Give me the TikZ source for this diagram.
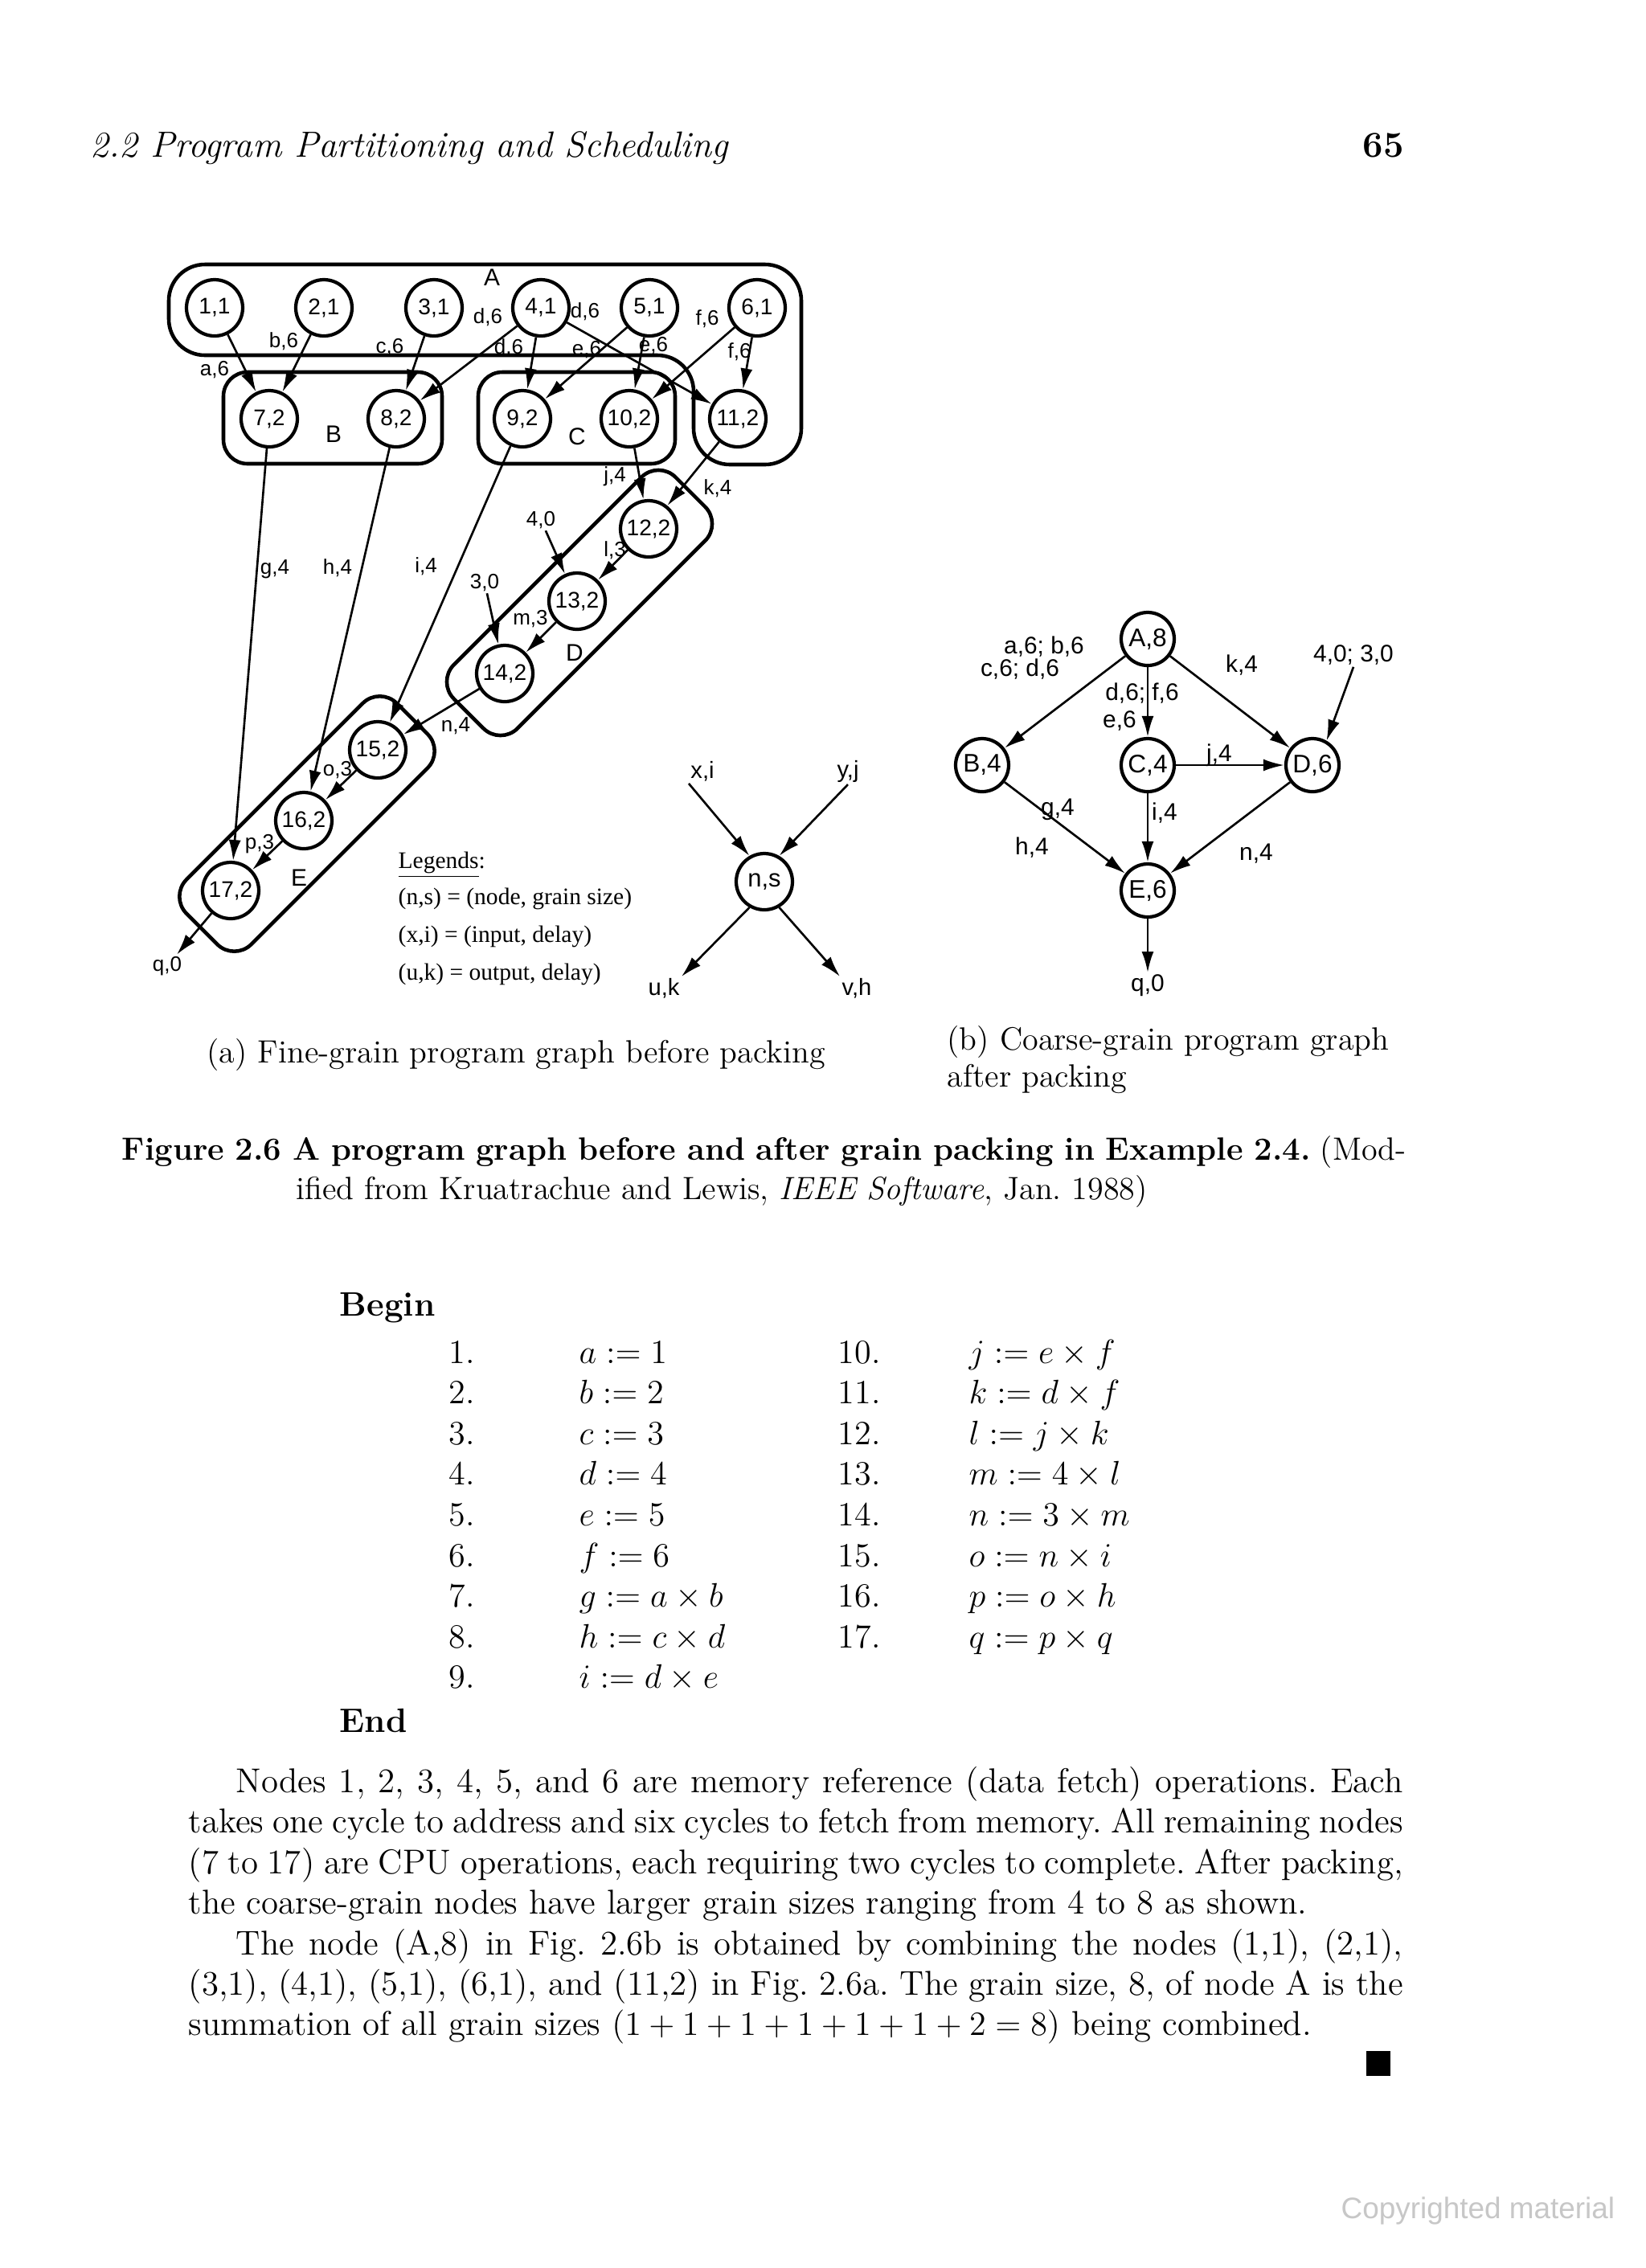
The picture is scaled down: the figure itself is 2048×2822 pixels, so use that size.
\documentclass[tikz,border=0pt]{standalone}
\usepackage{fontspec}
\usepackage{amsmath}
\usetikzlibrary{arrows.meta}
\newfontfamily\graphfont{Liberation Sans}
\newfontfamily\legendfont{Liberation Serif}
\tikzset{
  vtx/.style={circle, draw, line width=1.2pt, minimum size=7mm, inner sep=0pt,
              font={\graphfont\fontsize{8}{9}\selectfont}},
  bvtx/.style={vtx, minimum size=6.6mm, font={\graphfont\fontsize{9}{10}\selectfont}},
  grp/.style={draw, line width=1.3pt, rounded corners=3mm},
  grplbl/.style={font={\graphfont\fontsize{8.5}{9}\selectfont}, inner sep=0pt},
  elbl/.style={font={\graphfont\fontsize{7.4}{8}\selectfont}, inner sep=0.5pt},
  belbl/.style={font={\graphfont\fontsize{8.5}{9}\selectfont}, inner sep=0.5pt},
  arr/.style={-{Latex[length=2.6mm,width=1.5mm]}, line width=0.75pt},
  legtxt/.style={font={\legendfont\fontsize{8.4}{10}\selectfont}, anchor=base west, inner sep=0pt},
  bodytxt/.style={font={\frenchspacing\fontsize{12.2}{14.34}\selectfont}, anchor=base west, inner sep=0pt},
  captxt/.style={bodytxt, font={\frenchspacing\fontsize{11.4}{13.5}\selectfont}},
  codetxt/.style={bodytxt, font={\fontsize{12}{14.34}\selectfont}},
  kwtxt/.style={bodytxt, font={\bfseries\fontsize{12}{14.34}\selectfont}}
}
\begin{document}
\begin{tikzpicture}[x=0.1mm, y=-0.1mm]
\path[fill=white, use as bounding box] (0,0) rectangle (2048,2822);
% running head
\node[bodytxt, font={\itshape\fontsize{12.9}{14}\selectfont}] (hdr) at (112,195) {2.2 Program Partitioning and Scheduling};
\node[bodytxt, font={\bfseries\fontsize{12.9}{14}\selectfont}] (pgno) at (1695,195) {65};
% (a) fine-grain graph: grain nodes
\node[vtx] (n1) at (267,383) {1,1};
\node[vtx] (n2) at (403,383) {2,1};
\node[vtx] (n3) at (540,383) {3,1};
\node[vtx] (n4) at (673,383) {4,1};
\node[vtx] (n5) at (808,383) {5,1};
\node[vtx] (n6) at (942,383) {6,1};
\node[vtx] (n7) at (335,521) {7,2};
\node[vtx] (n8) at (493,521) {8,2};
\node[vtx] (n9) at (650,521) {9,2};
\node[vtx] (n10) at (783,521) {10,2};
\node[vtx] (n11) at (918,521) {11,2};
\node[vtx] (n12) at (807,658) {12,2};
\node[vtx] (n13) at (718,748) {13,2};
\node[vtx] (n14) at (628,838) {14,2};
\node[vtx] (n15) at (470,933) {15,2};
\node[vtx] (n16) at (378,1021) {16,2};
\node[vtx] (n17) at (287,1108) {17,2};
% packing groups
\draw[grp, rounded corners=4.5mm] (210,442) -- (210,329) -- (997,329) -- (997,578) -- (863,578) -- (863,442) -- cycle;
\draw[grp] (278,463) rectangle (550,577);
\draw[grp] (595,463) rectangle (840,577);
\node[grp, rotate=45, minimum width=39mm, minimum height=11.2mm] (boxD) at (721,750) {};
\node[grp, rotate=45, minimum width=37mm, minimum height=11.4mm] (boxE) at (382,1025) {};
\node[grplbl] (lA) at (612,345) {A};
\node[grplbl] (lB) at (415,540) {B};
\node[grplbl] (lC) at (718,543) {C};
\node[grplbl] (lD) at (715,812) {D};
\node[grplbl] (lE) at (372,1092) {E};
% edges
\draw[arr] (n1) -- (n7);
\draw[arr] (n2) -- (n7);
\draw[arr] (n3) -- (n8);
\draw[arr] (n4) -- (n8);
\draw[arr] (n4) -- (n9);
\draw[arr] (n4) -- (n11);
\draw[arr] (n5) -- (n9);
\draw[arr] (n5) -- (n10);
\draw[arr] (n6) -- (n10);
\draw[arr] (n6) -- (n11);
\draw[arr] (n7) -- (n17);
\draw[arr] (n8) -- (n16);
\draw[arr] (n9) -- (n15);
\draw[arr] (n10) -- (n12);
\draw[arr] (n11) -- (n12);
\draw[arr] (n12) -- (n13);
\draw[arr] (n13) -- (n14);
\draw[arr] (n14) -- (n15);
\draw[arr] (n15) -- (n16);
\draw[arr] (n16) -- (n17);
\node[elbl] (q0a) at (208,1202) {q,0};
\draw[arr] (n17) -- (q0a);
\node[elbl] (in40) at (673,647) {4,0};
\node[elbl] (in30) at (603,725) {3,0};
\draw[arr] (in40) -- (n13);
\draw[arr] (in30) -- (n14);
% edge labels
\node[elbl] (ea) at (267,460) {a,6};
\node[elbl] (eb) at (353,425) {b,6};
\node[elbl] (ec) at (485,432) {c,6};
\node[elbl] (ed1) at (607,395) {d,6};
\node[elbl] (ed2) at (633,433) {d,6};
\node[elbl] (ed3) at (728,388) {d,6};
\node[elbl] (ee1) at (730,435) {e,6};
\node[elbl] (ee2) at (813,430) {e,6};
\node[elbl] (ef1) at (880,397) {f,6};
\node[elbl] (ef2) at (920,438) {f,6};
\node[elbl] (eg) at (342,708) {g,4};
\node[elbl] (eh) at (420,707) {h,4};
\node[elbl] (ei) at (530,705) {i,4};
\node[elbl] (ej) at (765,593) {j,4};
\node[elbl] (ek) at (893,608) {k,4};
\node[elbl] (el) at (765,685) {l,3};
\node[elbl] (em) at (660,770) {m,3};
\node[elbl] (en) at (567,903) {n,4};
\node[elbl] (eo) at (420,958) {o,3};
\node[elbl] (ep) at (323,1050) {p,3};
% legend
\node[legtxt] (leg0) at (495,1080) {\underline{Legends}:};
\node[legtxt] (leg1) at (495,1125) {(n,s) = (node, grain size)};
\node[legtxt] (leg2) at (495,1172) {(x,i) = (input, delay)};
\node[legtxt] (leg3) at (495,1219) {(u,k) = output, delay)};
\node[vtx, font={\graphfont\fontsize{8.8}{10}\selectfont}] (ns) at (951,1097) {n,s};
\node[elbl, font={\graphfont\fontsize{8.3}{9}\selectfont}] (lxi) at (874,960) {x,i};
\node[elbl, font={\graphfont\fontsize{8.3}{9}\selectfont}] (lyj) at (1055,960) {y,j};
\node[elbl, font={\graphfont\fontsize{8.3}{9}\selectfont}] (luk) at (826,1230) {u,k};
\node[elbl, font={\graphfont\fontsize{8.3}{9}\selectfont}] (lvh) at (1066,1230) {v,h};
\draw[arr] (lxi.south west) -- (ns.120);
\draw[arr] (lyj.south) -- (ns.60);
\draw[arr] (ns.240) -- (luk.north east);
\draw[arr] (ns.300) -- (lvh.north west);
% (b) coarse-grain graph
\node[bvtx] (bA) at (1428,795) {A,8};
\node[bvtx] (bB) at (1222,952) {B,4};
\node[bvtx] (bC) at (1428,952) {C,4};
\node[bvtx] (bD) at (1633,952) {D,6};
\node[bvtx] (bE) at (1428,1108) {E,6};
\node[belbl] (bq) at (1428,1226) {q,0};
\node[belbl] (bin) at (1684,815) {4,0; 3,0};
\draw[arr] (bA) -- (bB);
\draw[arr] (bA) -- (bC);
\draw[arr] (bA) -- (bD);
\draw[arr] (bC) -- (bD);
\draw[arr] (bB) -- (bE);
\draw[arr] (bC) -- (bE);
\draw[arr] (bD) -- (bE);
\draw[arr] (bE) -- (bq);
\draw[arr] (bin.south) -- (bD.60);
\node[belbl] (bab) at (1299,805) {a,6; b,6};
\node[belbl] (bcd) at (1269,833) {c,6; d,6};
\node[belbl] (bdf) at (1421,863) {d,6; f,6};
\node[belbl] (be) at (1393,897) {e,6};
\node[belbl] (bk) at (1545,828) {k,4};
\node[belbl] (bj) at (1517,940) {j,4};
\node[belbl] (bi) at (1449,1012) {i,4};
\node[belbl] (bg) at (1316,1007) {g,4};
\node[belbl] (bh) at (1284,1055) {h,4};
\node[belbl] (bn) at (1563,1062) {n,4};
% captions
\node[captxt] (capa) at (257,1322) {(a) Fine-grain program graph before packing};
\node[captxt] (capb1) at (1178,1306) {(b) Coarse-grain program graph};
\node[captxt] (capb2) at (1178,1352) {after packing};
\node[captxt] (fig1) at (151,1443) {\makebox[15.98cm][s]{\textbf{Figure 2.6 A program graph before and after grain packing in Example 2.4.} (Mod-}};
\node[captxt] (fig2) at (368,1492) {ified from Kruatrachue and Lewis, \textit{IEEE Software}, Jan. 1988)};
% program listing
\node[kwtxt] (kwbegin) at (422,1637) {Begin};
\foreach \num/\stm [count=\k from 0] in {1/{a := 1}, 2/{b := 2}, 3/{c := 3}, 4/{d := 4},
    5/{e := 5}, 6/{f := 6}, 7/{g := a\times b}, 8/{h := c\times d}, 9/{i := d\times e}}{
  \node[codetxt] (num\num) at (558,{1696+50.6*\k}) {\num.};
  \node[codetxt] (stm\num) at (720,{1696+50.6*\k}) {$\stm$};
}
\foreach \num/\stm [count=\k from 0] in {10/{j := e\times f}, 11/{k := d\times f}, 12/{l := j\times k},
    13/{m := 4\times l}, 14/{n := 3\times m}, 15/{o := n\times i}, 16/{p := o\times h}, 17/{q := p\times q}}{
  \node[codetxt] (num\num) at (1042,{1696+50.6*\k}) {\num.};
  \node[codetxt] (stm\num) at (1205,{1696+50.6*\k}) {$\stm$};
}
\node[kwtxt] (kwend) at (422,2155) {End};
% body text
\node[bodytxt] (p1) at (293,2230) {\makebox[14.52cm][s]{Nodes 1, 2, 3, 4, 5, and 6 are memory reference (data fetch) operations. Each}};
\node[bodytxt] (p2) at (234,2280) {\makebox[15.11cm][s]{takes one cycle to address and six cycles to fetch from memory. All remaining nodes}};
\node[bodytxt] (p3) at (234,2331) {\makebox[15.11cm][s]{(7 to 17) are CPU operations, each requiring two cycles to complete. After packing,}};
\node[bodytxt] (p4) at (234,2381) {the coarse-grain nodes have larger grain sizes ranging from 4 to 8 as shown.};
\node[bodytxt] (p5) at (293,2432) {\makebox[14.52cm][s]{The node (A,8) in Fig. 2.6b is obtained by combining the nodes (1,1), (2,1),}};
\node[bodytxt] (p6) at (234,2482) {\makebox[15.11cm][s]{(3,1), (4,1), (5,1), (6,1), and (11,2) in Fig. 2.6a. The grain size, 8, of node A is the}};
\node[bodytxt] (p7) at (234,2532) {summation of all grain sizes $(1+1+1+1+1+1+2=8)$ being combined.};
\fill (1700,2552) rectangle (1730,2583);
\node[bodytxt, font={\graphfont\fontsize{10.5}{12}\selectfont}, text=black!22] (wm) at (1668,2760) {Copyrighted material};
\end{tikzpicture}
\end{document}
